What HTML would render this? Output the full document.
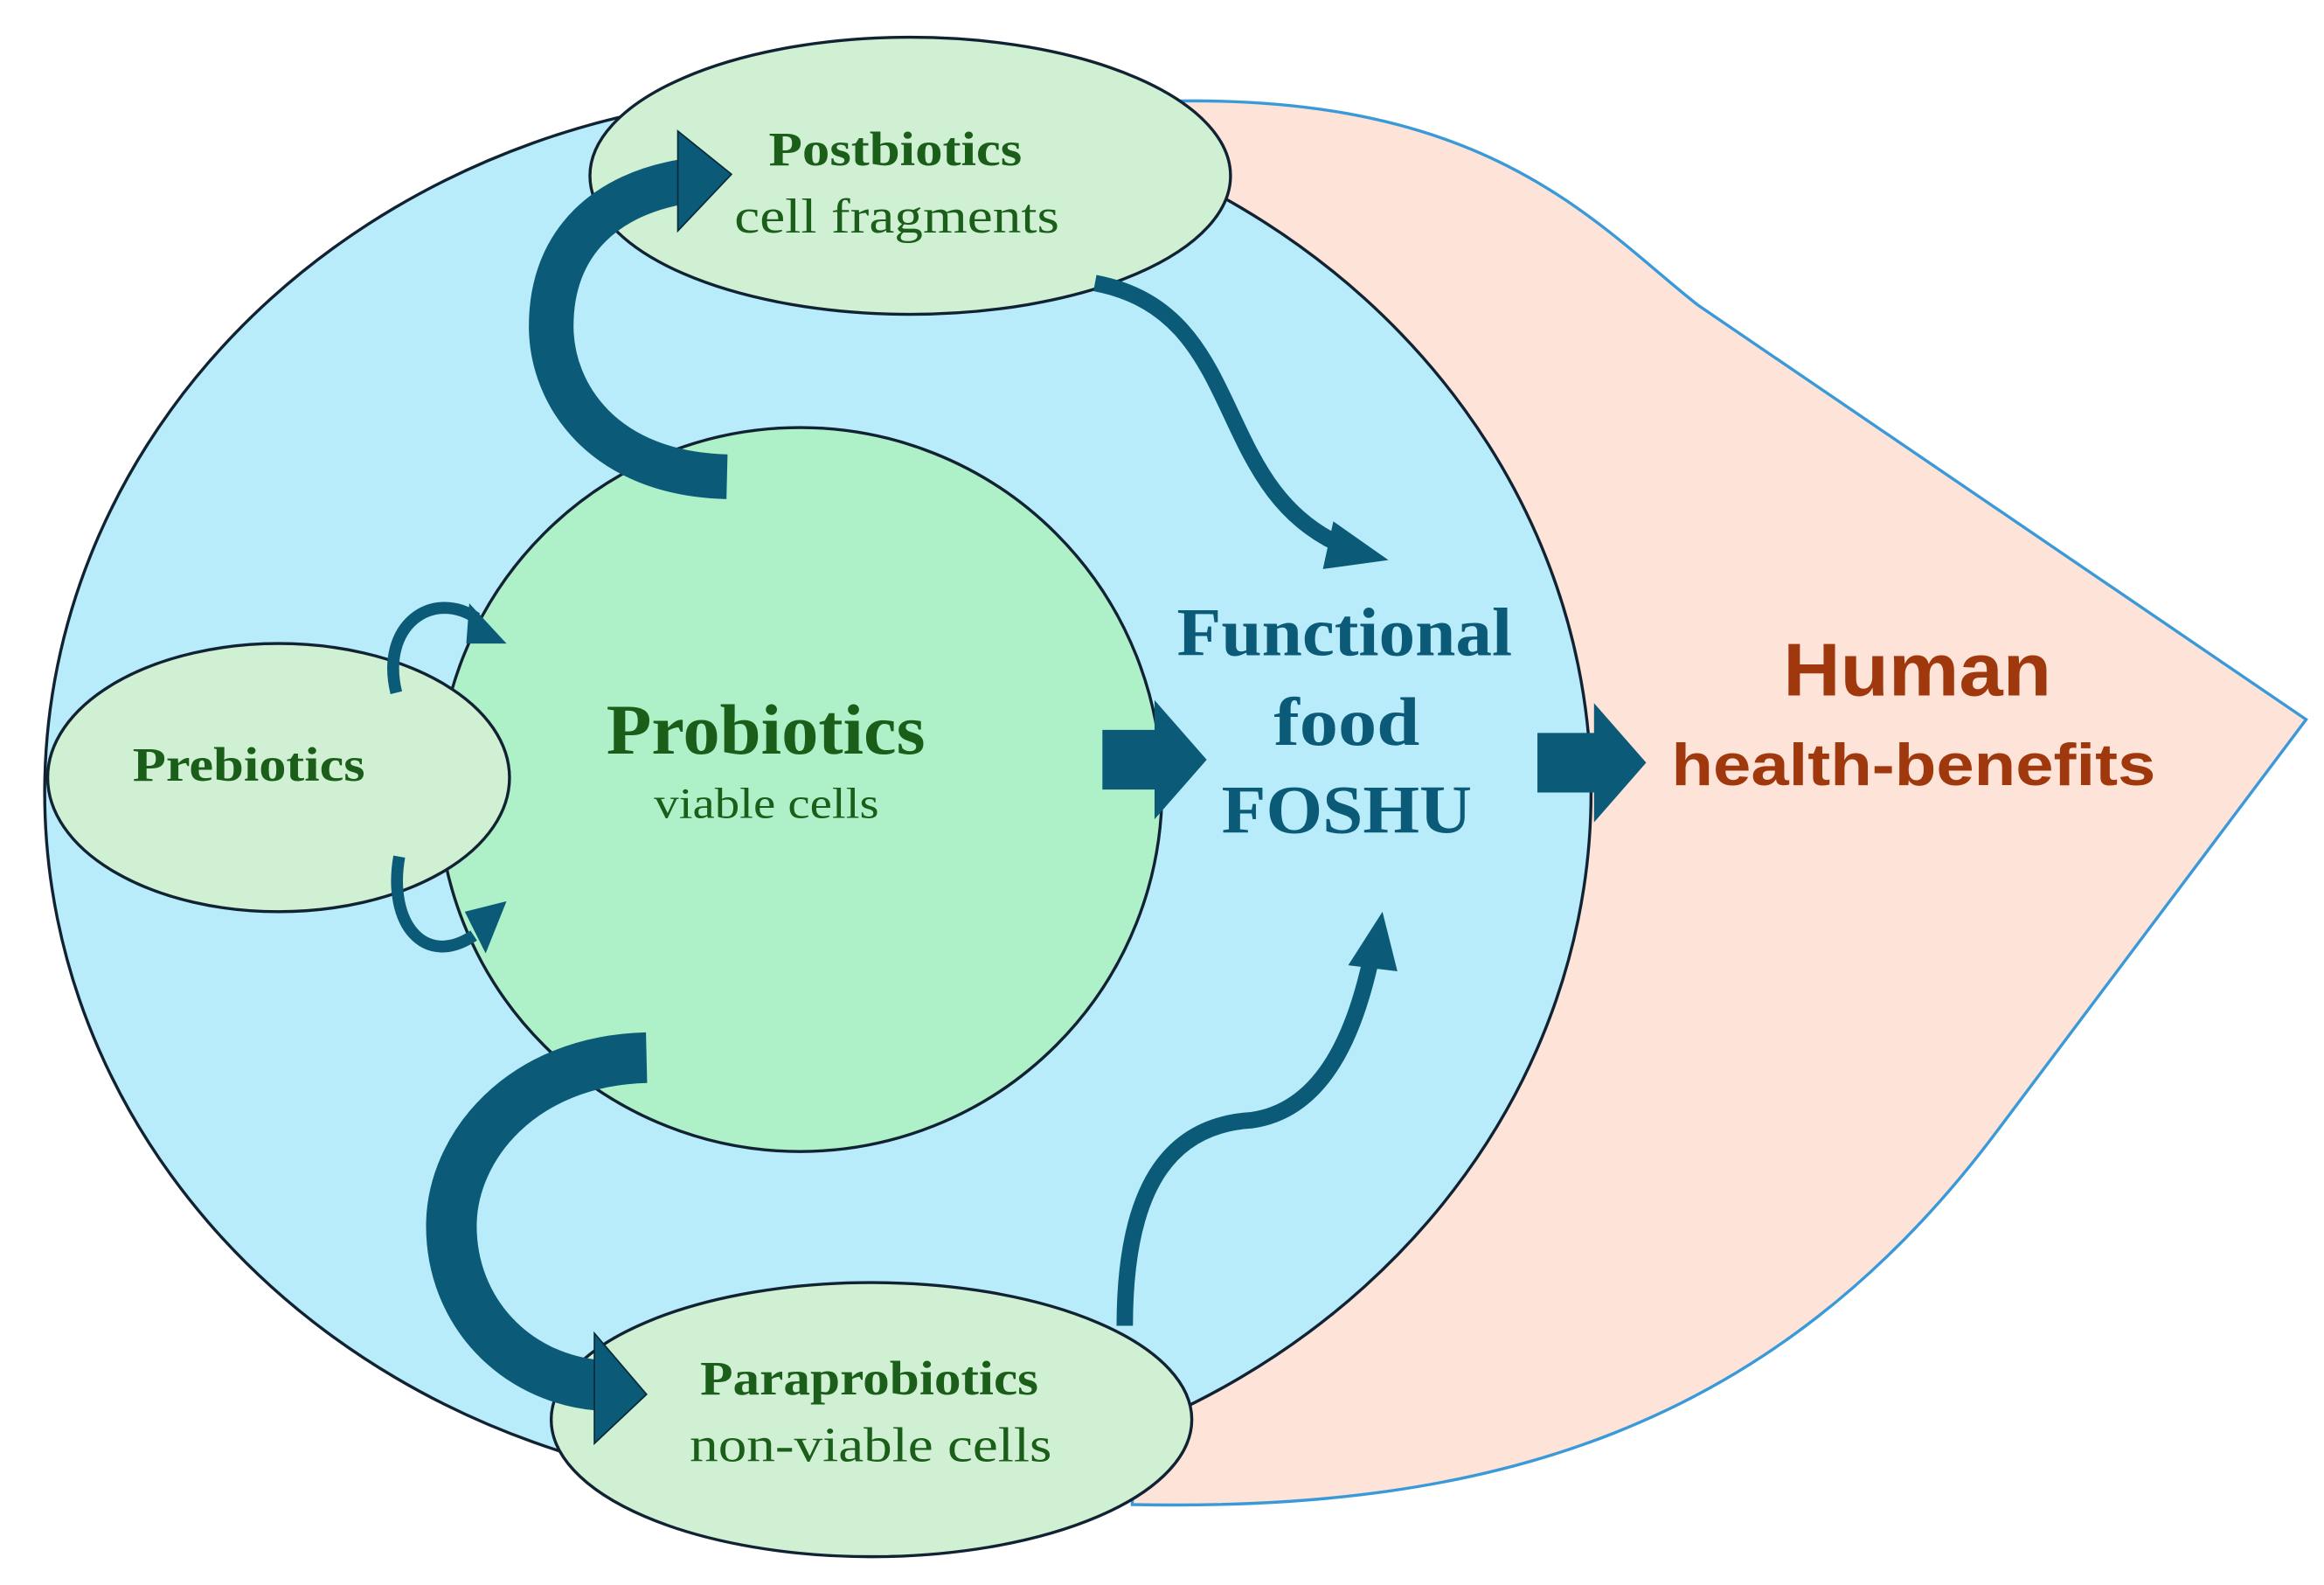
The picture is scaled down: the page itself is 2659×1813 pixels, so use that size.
<!DOCTYPE html>
<html><head><meta charset="utf-8"><style>html,body{margin:0;padding:0;background:#fff}svg{display:block}</style></head><body>
<svg width="2659" height="1813" viewBox="0 0 1560 1064" preserveAspectRatio="none" xmlns="http://www.w3.org/2000/svg">
<path d="M780 68 C1000 62 1070 150 1140 205 L1548 483 L1340 760 C1190 960 1000 1015 760 1010 Z" fill="#fde3d8" stroke="#3a9ad9" stroke-width="2"/>
<ellipse cx="549" cy="532" rx="519" ry="469" fill="#b9ecfa" stroke="#123" stroke-width="2"/>
<ellipse cx="537" cy="530" rx="243" ry="243" fill="#aef0c8" stroke="#123" stroke-width="2"/>
<ellipse cx="611" cy="118" rx="215" ry="93" fill="#cff0d2" stroke="#123" stroke-width="2"/>
<ellipse cx="187" cy="522" rx="155" ry="90" fill="#cff0d2" stroke="#123" stroke-width="2"/>
<ellipse cx="585" cy="953" rx="215" ry="92" fill="#cff0d2" stroke="#123" stroke-width="2"/>
<g fill="#0b5a78" stroke="#0b5a78">
<path d="M488 320 C405 318 370 265 370 219 C370 160 410 130 458 122" fill="none" stroke-width="30"/>
<polygon points="455,88 491,117 455,155" stroke="#062a3a" stroke-width="1"/>
<path d="M434 710 C350 712 303 770 303 823 C303 880 345 925 402 930" fill="none" stroke-width="34"/>
<polygon points="399,895 434,936 399,969" stroke="#062a3a" stroke-width="1"/>
<path d="M735 190 C840 210 810 330 905 368" fill="none" stroke-width="11"/>
<polygon points="932,376 895,350 888,382" stroke="none"/>
<path d="M755 890 C755 790 790 755 840 752 C890 745 910 690 920 645" fill="none" stroke-width="11"/>
<polygon points="928,612 905,648 938,652" stroke="none"/>
<path d="M266 465 C255 420 290 395 320 415" fill="none" stroke-width="8"/>
<polygon points="340,432 315,405 313,432" stroke="none"/>
<path d="M268 575 C260 620 285 650 318 628" fill="none" stroke-width="8"/>
<polygon points="340,605 312,612 326,640" stroke="none"/>
<polygon points="740,490 775,490 775,470 810,510 775,550 775,530 740,530" stroke="none"/>
<polygon points="1032,492 1070,492 1070,472 1105,512 1070,552 1070,532 1032,532" stroke="none"/>
</g>
<g font-family="'Liberation Serif',serif" fill="#1a5e1a" lengthAdjust="spacingAndGlyphs">
<text x="516" y="111" font-size="32" font-weight="bold" textLength="170" lengthAdjust="spacingAndGlyphs">Postbiotics</text>
<text x="493" y="156" font-size="33" textLength="218" lengthAdjust="spacingAndGlyphs">cell fragments</text>
<text x="89" y="524" font-size="32" font-weight="bold" textLength="156" lengthAdjust="spacingAndGlyphs">Prebiotics</text>
<text x="407" y="506" font-size="48" font-weight="bold" textLength="214" lengthAdjust="spacingAndGlyphs">Probiotics</text>
<text x="439" y="549" font-size="29" textLength="151" lengthAdjust="spacingAndGlyphs">viable cells</text>
<text x="470" y="936" font-size="32" font-weight="bold" textLength="227" lengthAdjust="spacingAndGlyphs">Paraprobiotics</text>
<text x="463" y="981" font-size="33" textLength="243" lengthAdjust="spacingAndGlyphs">non-viable cells</text>
<g fill="#0b5a78" font-weight="bold" font-size="46">
<text x="790" y="440" textLength="225" lengthAdjust="spacingAndGlyphs">Functional</text>
<text x="855" y="500" textLength="98" lengthAdjust="spacingAndGlyphs">food</text>
<text x="820" y="559" textLength="168" lengthAdjust="spacingAndGlyphs">FOSHU</text></g>
</g>
<g font-family="'Liberation Sans',sans-serif" fill="#a0380e" font-weight="bold">
<text x="1197" y="467" font-size="50" textLength="180" lengthAdjust="spacingAndGlyphs">Human</text>
<text x="1122" y="527" font-size="40" textLength="325" lengthAdjust="spacingAndGlyphs">health-benefits</text>
</g>
</svg>
</body></html>
